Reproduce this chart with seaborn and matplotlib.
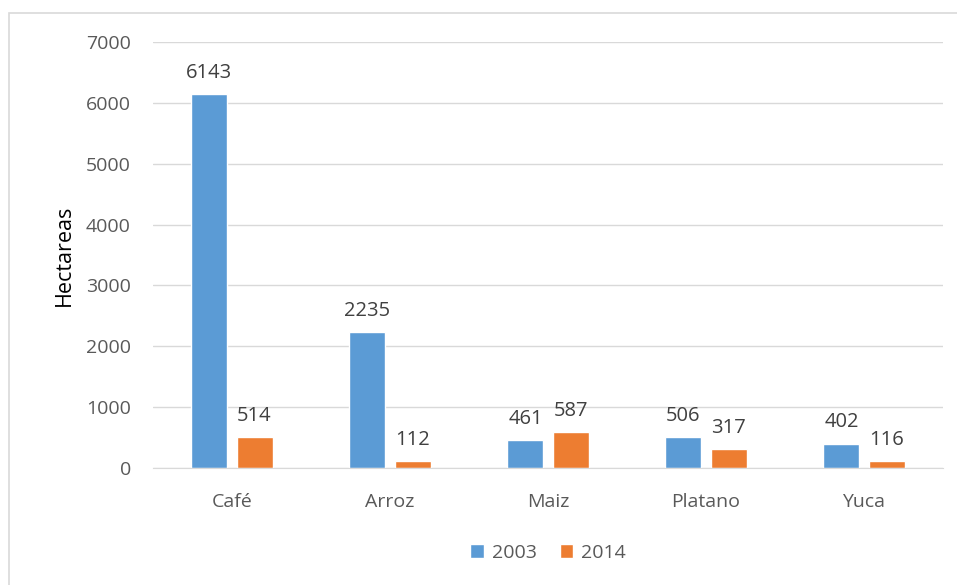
import pandas as pd
import seaborn as sns
import matplotlib.pyplot as plt
from matplotlib.patches import Rectangle

# chart data
cultivos = ['Café', 'Arroz', 'Maiz', 'Platano', 'Yuca']
ha_2003 = [6143, 2235, 461, 506, 402]
ha_2014 = [514, 112, 587, 317, 116]

df = pd.DataFrame({
    'Cultivo': cultivos * 2,
    'Hectareas': ha_2003 + ha_2014,
    'Año': ['2003'] * len(cultivos) + ['2014'] * len(cultivos),
})

sns.set_style('white')
plt.rcParams['font.family'] = ['Open Sans', 'DejaVu Sans']

fig = plt.figure(figsize=(9.57, 5.85), dpi=100)
ax = fig.add_axes([153 / 957, 1 - 468 / 585, (943 - 153) / 957, (468 - 42) / 585])

sns.barplot(data=df, x='Cultivo', y='Hectareas', hue='Año',
            palette=['#5B9BD5', '#ED7D31'], width=0.57, gap=0.2,
            saturation=1, ax=ax, legend=True)

for cont in ax.containers:
    ax.bar_label(cont, padding=8, fontsize=14.5, color='#404040')

ax.set_ylim(0, 7000)
ax.set_yticks(range(0, 7001, 1000))
ax.yaxis.grid(True, color='#D9D9D9', linewidth=1)
ax.set_axisbelow(True)
for s in ['top', 'right', 'left']:
    ax.spines[s].set_visible(False)
ax.spines['bottom'].set_color('#D9D9D9')
ax.tick_params(axis='both', length=0, labelsize=14, labelcolor='#595959')
ax.tick_params(axis='y', pad=16)
ax.tick_params(axis='x', pad=18)
ax.set_xlabel('')
ax.set_ylabel('Hectareas', fontsize=15.5, color='#000000', labelpad=8)

ax.legend(loc='upper center', bbox_to_anchor=(0.5, -0.137), ncol=2, frameon=False,
          fontsize=14, handlelength=0.7, handleheight=0.7, handletextpad=0.4,
          columnspacing=1.2, labelcolor='#595959')

fig.patches.append(Rectangle((9 / 957, -0.05), 1.0, 1 - 12.5 / 585 + 0.05,
                             transform=fig.transFigure, fill=False,
                             edgecolor='#D9D9D9', linewidth=1.2))

fig.savefig('out.png', dpi=100)
